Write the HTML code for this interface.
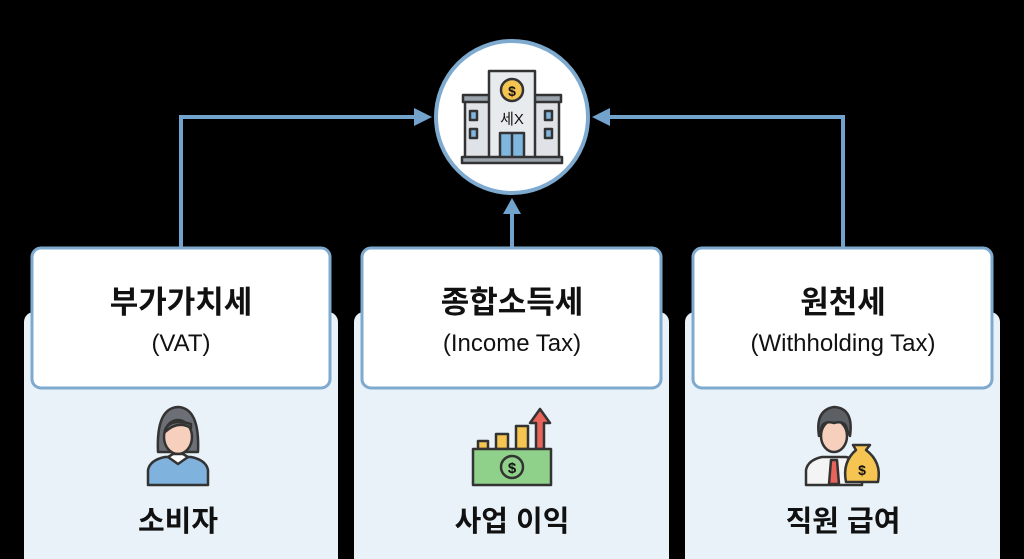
<!DOCTYPE html>
<html><head><meta charset="utf-8"><style>
html,body{margin:0;padding:0;background:#000;width:1024px;height:559px;overflow:hidden}
svg{display:block}
text{font-family:"Liberation Sans","Noto Sans CJK KR",sans-serif;fill:#111}
</style></head><body>
<svg width="1024" height="559" viewBox="0 0 1024 559">
<rect width="1024" height="559" fill="#000"/>
<g stroke="#72a3cd" stroke-width="4" fill="none">
<polyline points="181,248 181,117 418,117"/>
<polyline points="843,248 843,117 606,117"/>
<line x1="512" y1="248" x2="512" y2="212"/>
</g>
<g fill="#72a3cd">
<polygon points="432,117 414,108 414,126"/>
<polygon points="592,117 610,108 610,126"/>
<polygon points="512,198 503,214 521,214"/>
</g>
<circle cx="512" cy="117" r="76" fill="#fff" stroke="#7eaad0" stroke-width="4"/>
<g stroke="#333" stroke-width="2.5" stroke-linejoin="round">
<rect x="465" y="100" width="28" height="58" fill="#dfe3e8"/>
<rect x="531" y="100" width="28" height="58" fill="#dfe3e8"/>
<rect x="463" y="95" width="32" height="7" fill="#9aa2ab"/>
<rect x="529" y="95" width="32" height="7" fill="#9aa2ab"/>
<rect x="489" y="71" width="46" height="87" fill="#e8ebee"/>
<circle cx="512" cy="90" r="11" fill="#f5c451"/>
<rect x="470" y="111" width="7" height="9" fill="#7fb7e0"/>
<rect x="470" y="129" width="7" height="9" fill="#7fb7e0"/>
<rect x="545" y="111" width="7" height="9" fill="#7fb7e0"/>
<rect x="545" y="129" width="7" height="9" fill="#7fb7e0"/>
<rect x="500" y="133" width="24" height="25" fill="#7fb7e0"/>
<line x1="512" y1="133" x2="512" y2="158"/>
<rect x="462" y="157" width="100" height="6" fill="#9aa2ab"/>
</g>
<text x="512" y="96" font-size="14" font-weight="bold" text-anchor="middle">$</text>
<text x="512" y="124" font-size="15" text-anchor="middle">세X</text>
<g fill="#e9f2f8">
<rect x="24" y="312" width="314" height="260" rx="10"/>
<rect x="354" y="312" width="315" height="260" rx="10"/>
<rect x="685" y="312" width="315" height="260" rx="10"/>
</g>
<g fill="#fff" stroke="#7eaad0" stroke-width="3">
<rect x="32" y="248" width="298" height="140" rx="9"/>
<rect x="362" y="248" width="299" height="140" rx="9"/>
<rect x="693" y="248" width="299" height="140" rx="9"/>
</g>
<g font-weight="bold" font-size="31" text-anchor="middle">
<text x="181" y="313">부가가치세</text>
<text x="512" y="313">종합소득세</text>
<text x="843" y="313">원천세</text>
</g>
<g font-size="24" text-anchor="middle">
<text x="181" y="351">(VAT)</text>
<text x="512" y="351">(Income Tax)</text>
<text x="843" y="351">(Withholding Tax)</text>
</g>
<g font-weight="bold" font-size="29" text-anchor="middle">
<text x="178" y="531">소비자</text>
<text x="512" y="531">사업 이익</text>
<text x="843" y="531">직원 급여</text>
</g>
<g stroke="#333" stroke-width="2.5" stroke-linejoin="round">
<path d="M158,452 Q156,408 178,407 Q200,408 198,452 Z" fill="#6c6f75"/>
<path d="M148,485 L148,470 Q150,460 165,457 L191,457 Q206,460 208,470 L208,485 Z" fill="#7fb2dc"/>
<ellipse cx="178" cy="437" rx="14" ry="17" fill="#f6d0bc"/>
<path d="M165,430 Q170,418 191,424 L191,428 Q178,420 165,432 Z" fill="#6c6f75"/>
<path d="M168,457 L178,464 L188,457 L183,454 L173,454 Z" fill="#fff"/>
</g>
<g stroke="#333" stroke-width="2.5" stroke-linejoin="round">
<rect x="478" y="441" width="10" height="8" fill="#f5c451"/>
<rect x="496" y="434" width="12" height="15" fill="#f5c451"/>
<rect x="516" y="426" width="12" height="23" fill="#f5c451"/>
<path d="M536,449 L536,423 L530,423 L540,409 L550,423 L544,423 L544,449 Z" fill="#e8635a"/>
<rect x="473" y="449" width="78" height="36" fill="#8fd08a"/>
<circle cx="512" cy="467" r="11" fill="#8fd08a"/>
</g>
<text x="512" y="473" font-size="15" font-weight="bold" text-anchor="middle">$</text>
<g stroke="#333" stroke-width="2.5" stroke-linejoin="round">
<path d="M806,485 L806,470 Q808,460 822,457 L846,457 Q860,460 862,470 L862,485 Z" fill="#f4f4f4"/>
<path d="M831,460 L837,460 L839,484 L829,484 Z" fill="#e8635a"/>
<ellipse cx="834" cy="436" rx="13" ry="16" fill="#f6d0bc"/>
<path d="M819,436 Q815,410 834,407 Q854,408 850,436 L847,430 Q846,420 834,423 Q822,420 821,430 Z" fill="#5c5f64"/>
<path d="M856,450 L853,445 L870,445 L866,450 Q882,462 878,482 L846,482 Q842,462 856,450 Z" fill="#f5c451"/>
</g>
<text x="862" y="475" font-size="14" font-weight="bold" text-anchor="middle">$</text>
</svg>
</body></html>
